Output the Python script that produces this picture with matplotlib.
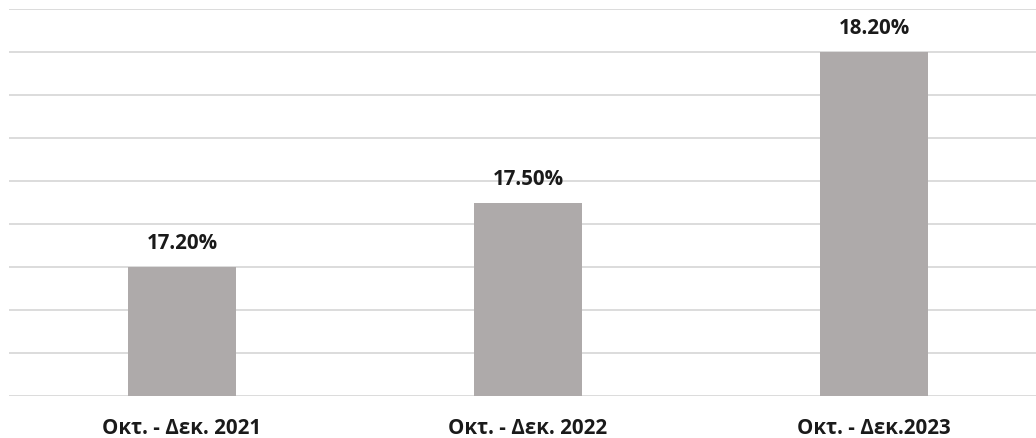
import numpy as np
import matplotlib.pyplot as plt

# data
periods = ['Οκτ. - Δεκ. 2021', 'Οκτ. - Δεκ. 2022', 'Οκτ. - Δεκ.2023']
rates = [17.2, 17.5, 18.2]

plt.rcParams['font.family'] = ['Open Sans', 'DejaVu Sans']

fig = plt.figure(figsize=(10.36, 4.39), dpi=100)
ax = fig.add_axes([9/1036, 42/439, 1027/1036, 387/439])

x = np.arange(len(periods))
ax.bar(x, rates, width=0.31, color='#aeaaaa', zorder=2)

for xi, v in zip(x, rates):
    ax.annotate('%.2f%%' % v, (xi, v), xytext=(0, 10), textcoords='offset points',
                ha='center', va='bottom', fontsize=14.8, fontweight='bold', color='#1a1a1a')

ax.set_ylim(16.6, 18.4)
ax.set_yticks(np.arange(16.6, 18.41, 0.2))
ax.set_xlim(-0.5, -0.5 + 1027/346)
ax.grid(axis='y', color='#d9d9d9', linewidth=1.3, zorder=0)
ax.set_xticks(x)
ax.set_xticklabels(periods, fontsize=14.8, fontweight='bold', color='#1a1a1a')
ax.tick_params(axis='x', length=0, pad=15)
ax.tick_params(axis='y', length=0, labelleft=False)
for s in ax.spines.values():
    s.set_visible(False)

fig.savefig('out.png', dpi=100)
